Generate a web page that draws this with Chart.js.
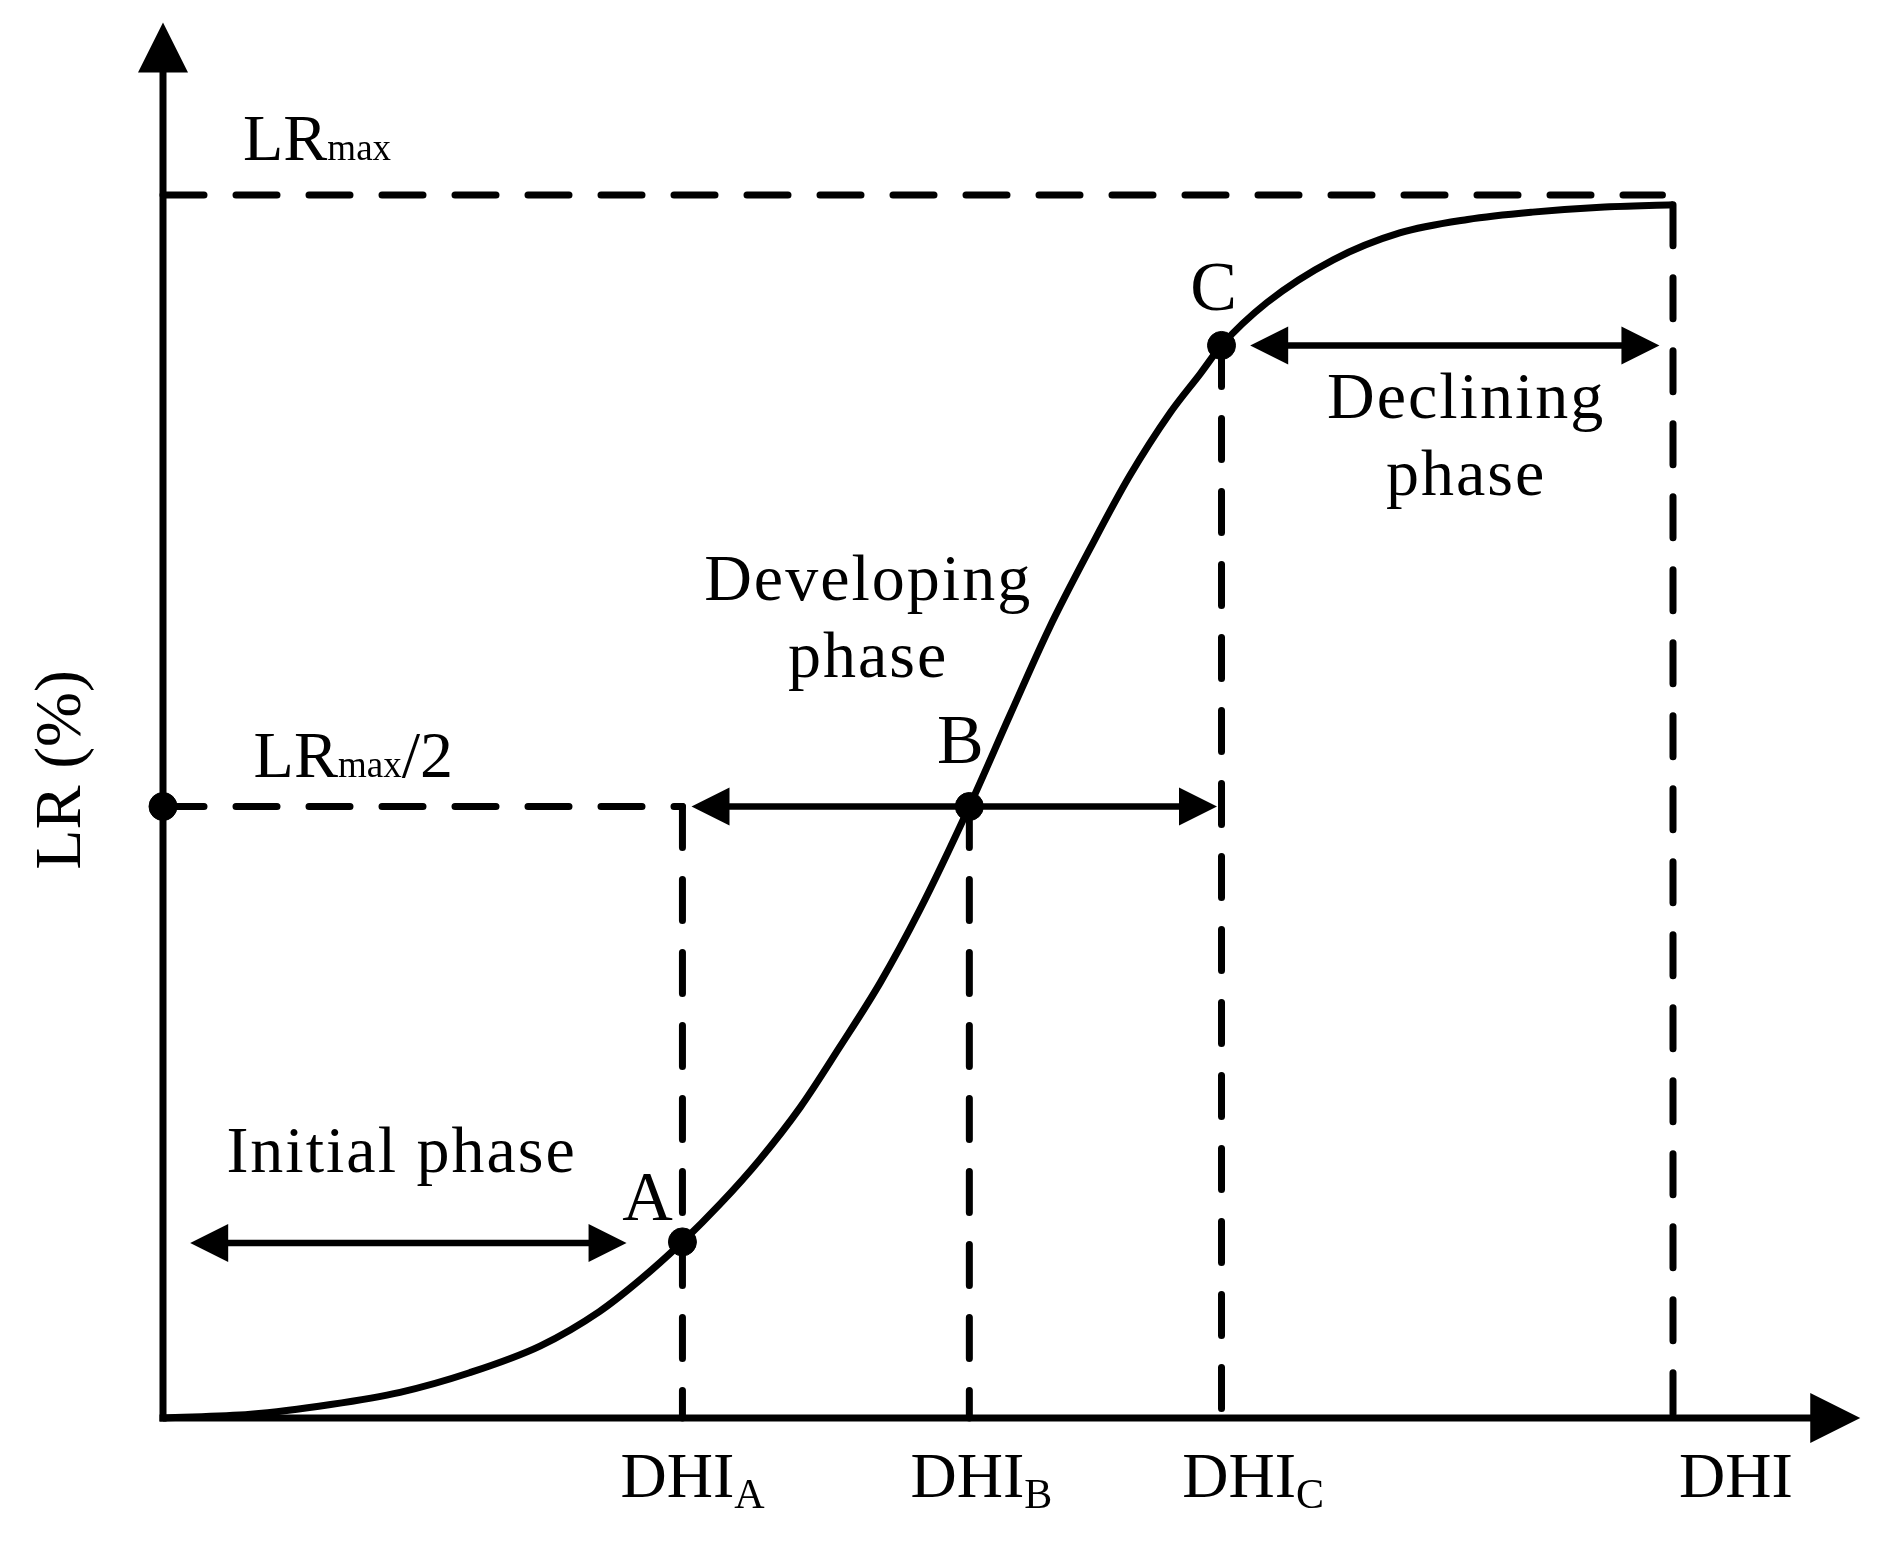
<!DOCTYPE html>
<html>
<head>
<meta charset="utf-8">
<script src="https://cdn.jsdelivr.net/npm/chart.js@4.4.1/dist/chart.umd.min.js"></script>
<style>
  html, body { margin: 0; padding: 0; background: #fff; overflow: hidden; }
  canvas { display: block; }
</style>
</head>
<body>
<canvas id="lrChart" width="1882" height="1549"></canvas>
<script>
// LR vs DHI curve (DHI end = 100, LRmax = 100)
const curveX = [0, 5.8, 11.1, 15.7, 20.3, 25.0, 28.9, 31.6, 34.4, 36.9, 39.5, 42.2, 44.8, 47.5, 50.1, 53.4, 56.1, 58.7, 61.4, 64.0, 66.7, 68.7, 70.1, 73.1, 77.5, 81.9, 86.4, 90.7, 95.2, 100];
const curveY = [0, 0.3, 1.1, 2.1, 3.7, 5.9, 8.7, 11.3, 14.4, 17.5, 21.1, 25.4, 30.3, 35.6, 41.5, 50.0, 57.5, 64.6, 71.1, 77.0, 82.2, 85.4, 87.7, 91.2, 94.7, 96.9, 98.0, 98.6, 99.0, 99.2];

// marked points A, B, C
const pointNames = ["A", "B", "C"];
const pointX = [34.4, 53.4, 70.1];
const pointY = [14.4, 50, 87.7];

const lrMax = 100;
const lrHalf = 50;
const dhiEnd = 100;
const dhiEndY = 99.2;

// x tick labels (main + subscript)
const tickMain = ["DHI", "DHI", "DHI", "DHI"];
const tickSub = ["A", "B", "C", ""];
const tickLabelX = [30.3, 49.5, 67.5, 100.4];

// phase arrows and their texts
const phaseText = [["Initial phase"], ["Developing", "phase"], ["Declining", "phase"]];
const phaseFrom = [1.8, 35.0, 72.0];
const phaseTo = [30.7, 69.8, 99.1];
const phaseArrowY = [14.3, 50, 87.7];
const phaseTextX = [15.8, 46.7, 86.3];
const phaseTextY = [20.1, 66.9, 81.8];

const xAxisTip = 112.4;
const yAxisTip = 114.1;

const FONT = "'Liberation Serif', 'Times New Roman', serif";

function dashed(points) {
    return {
        type: "line",
        data: points.map(p => ({ x: p[0], y: p[1] })),
        borderColor: "#000",
        borderWidth: 7,
        borderDash: [41, 32],
        borderCapStyle: "round",
        pointRadius: 0,
        tension: 0,
        clip: false
    };
}

function arrowHead(ctx, tx, ty, dx, dy, len, wid) {
    const nx = -dy, ny = dx;
    ctx.beginPath();
    ctx.moveTo(tx, ty);
    ctx.lineTo(tx - dx * len + nx * wid / 2, ty - dy * len + ny * wid / 2);
    ctx.lineTo(tx - dx * len - nx * wid / 2, ty - dy * len - ny * wid / 2);
    ctx.closePath();
    ctx.fill();
}

function line(ctx, x1, y1, x2, y2) {
    ctx.beginPath();
    ctx.moveTo(x1, y1);
    ctx.lineTo(x2, y2);
    ctx.stroke();
}

// text made of parts: [text, size, dy]
function richText(ctx, parts, x, y) {
    let cx = x;
    ctx.textAlign = "left";
    ctx.textBaseline = "alphabetic";
    parts.forEach(p => {
        ctx.font = p[1] + "px " + FONT;
        ctx.fillText(p[0], cx, y + (p[2] || 0));
        cx += ctx.measureText(p[0]).width;
    });
}

const overlay = {
    id: "overlay",
    afterDatasetsDraw(chart) {
        const { ctx } = chart;
        const xs = chart.scales.x, ys = chart.scales.y;
        const px = v => xs.getPixelForValue(v);
        const py = v => ys.getPixelForValue(v);

        ctx.save();
        ctx.strokeStyle = "#000";
        ctx.fillStyle = "#000";
        ctx.lineWidth = 7;
        ctx.lineCap = "butt";

        // axes with arrow heads
        const ox = px(0), oy = py(0);
        line(ctx, ox - 3.5, oy, px(xAxisTip) - 45, oy);
        arrowHead(ctx, px(xAxisTip), oy, 1, 0, 50, 50);
        line(ctx, ox, oy + 3.5, ox, py(yAxisTip) + 45);
        arrowHead(ctx, ox, py(yAxisTip), 0, -1, 50, 50);

        // phase double arrows
        ctx.lineWidth = 6.5;
        phaseFrom.forEach((f, i) => {
            const a = px(f), b = px(phaseTo[i]), yy = py(phaseArrowY[i]);
            line(ctx, a + 30, yy, b - 30, yy);
            arrowHead(ctx, a, yy, -1, 0, 38, 38);
            arrowHead(ctx, b, yy, 1, 0, 38, 38);
        });

        // phase texts
        ctx.textAlign = "center";
        ctx.textBaseline = "alphabetic";
        ctx.font = "66px " + FONT;
        if ("letterSpacing" in ctx) ctx.letterSpacing = "2px";
        phaseText.forEach((lines, i) => {
            lines.forEach((t, j) => {
                ctx.fillText(t, px(phaseTextX[i]), py(phaseTextY[i]) + j * 77);
            });
        });
        if ("letterSpacing" in ctx) ctx.letterSpacing = "0px";

        // point labels
        const labelOffset = [[-35, -22], [-9, -44], [-8, -35]];
        ctx.font = "70px " + FONT;
        pointNames.forEach((n, i) => {
            ctx.fillText(n, px(pointX[i]) + labelOffset[i][0], py(pointY[i]) + labelOffset[i][1]);
        });

        // LRmax labels
        richText(ctx, [["LR", 66], ["max", 37]], px(5.3), py(lrMax) - 35);
        richText(ctx, [["LR", 66], ["max", 37], ["/2", 66]], px(6.0), py(lrHalf) - 30);

        // x tick labels
        tickMain.forEach((t, i) => {
            richText(ctx, [[t, 64], [tickSub[i], 42, 11]], px(tickLabelX[i]), oy + 79);
        });

        // y axis title
        ctx.save();
        ctx.translate(80, py(53));
        ctx.rotate(-Math.PI / 2);
        ctx.textAlign = "center";
        ctx.font = "66px " + FONT;
        ctx.fillText("LR (%)", 0, 0);
        ctx.restore();

        ctx.restore();
    }
};

const ctx = document.getElementById("lrChart").getContext("2d");
new Chart(ctx, {
    type: "line",
    data: {
        datasets: [
            dashed([[0, lrMax], [99.3, lrMax]]),
            dashed([[0, lrHalf], [pointX[0], lrHalf]]),
            dashed([[pointX[0], lrHalf], [pointX[0], 0]]),
            dashed([[pointX[1], lrHalf], [pointX[1], 0]]),
            dashed([[pointX[2], pointY[2]], [pointX[2], 0]]),
            dashed([[dhiEnd, dhiEndY], [dhiEnd, 0]]),
            {
                type: "line",
                data: curveX.map((v, i) => ({ x: v, y: curveY[i] })),
                borderColor: "#000",
                borderWidth: 7,
                cubicInterpolationMode: "monotone",
                pointRadius: 0,
                clip: false
            },
            {
                type: "scatter",
                data: pointX.map((v, i) => ({ x: v, y: pointY[i] })).concat([{ x: 0, y: lrHalf }]),
                backgroundColor: "#000",
                borderColor: "#000",
                pointRadius: 14,
                borderWidth: 1,
                clip: false
            }
        ]
    },
    options: {
        responsive: false,
        animation: false,
        events: [],
        layout: { padding: { left: 163, right: 209, top: 195, bottom: 131 } },
        plugins: { legend: { display: false }, tooltip: { enabled: false } },
        scales: {
            x: { type: "linear", min: 0, max: 100, display: false },
            y: { type: "linear", min: 0, max: 100, display: false }
        }
    },
    plugins: [overlay]
});
</script>
</body>
</html>
